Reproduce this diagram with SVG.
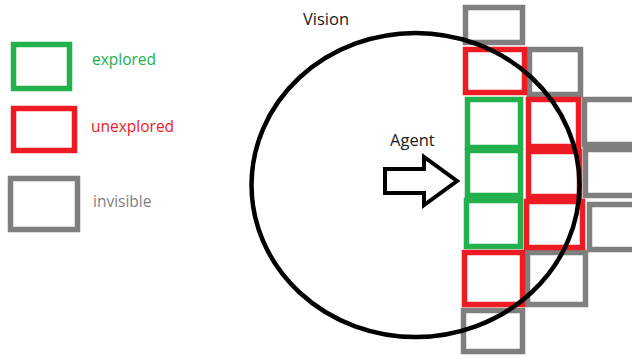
<svg xmlns="http://www.w3.org/2000/svg" width="632" height="356" viewBox="0 0 632 356">
  <style>
    .cell { fill: none; stroke-width: 5.5; }
    .explored { stroke: #22b14c; }
    .unexplored { stroke: #ed1c24; }
    .invisible { stroke: #7f7f7f; }
    .label { font-family: "Open Sans", "Liberation Sans", sans-serif; font-size: 15.5px; }
    .title { font-size: 16.5px; }
    .dark { fill: #1a1a1a; }
  </style>
  <rect width="632" height="356" fill="#ffffff"/>

  <!-- Legend -->
  <g id="legend">
    <g id="legend-explored">
      <rect class="cell explored" x="13.5" y="44.5" width="56" height="44"/>
      <text class="label" x="92" y="65" fill="#22b14c">explored</text>
    </g>
    <g id="legend-unexplored">
      <rect class="cell unexplored" x="13.5" y="108.5" width="61" height="42"/>
      <text class="label" x="91" y="132" fill="#ed1c24">unexplored</text>
    </g>
    <g id="legend-invisible">
      <rect class="cell invisible" x="10.5" y="178.5" width="67" height="51"/>
      <text class="label" x="93" y="207" fill="#7f7f7f">invisible</text>
    </g>
  </g>

  <!-- Grid cells -->
  <g id="cells">
    <!-- invisible -->
    <rect id="c1r1" class="cell invisible" x="465.5" y="7.5" width="57" height="35"/>
    <rect id="c1r7" class="cell invisible" x="463.5" y="310.5" width="59" height="41"/>
    <rect id="c2r2" class="cell invisible" x="529.5" y="49.5" width="51" height="45"/>
    <rect id="c2r6" class="cell invisible" x="527.5" y="252.5" width="58" height="52"/>
    <rect id="c3r3" class="cell invisible" x="584.5" y="99.5" width="60" height="45"/>
    <rect id="c3r4" class="cell invisible" x="585.5" y="149.5" width="60" height="46"/>
    <rect id="c3r5" class="cell invisible" x="589.5" y="204.5" width="60" height="45"/>
    <!-- unexplored -->
    <rect id="c1r2" class="cell unexplored" x="465.5" y="49.5" width="59" height="43"/>
    <rect id="c1r6" class="cell unexplored" x="464.5" y="252.5" width="58" height="52"/>
    <rect id="c2r3" class="cell unexplored" x="528.5" y="99.5" width="50" height="47"/>
    <rect id="c2r4" class="cell unexplored" x="528.5" y="151.5" width="51" height="45"/>
    <rect id="c2r5" class="cell unexplored" x="526.5" y="201.5" width="56" height="46"/>
    <!-- explored -->
    <rect id="c1r3" class="cell explored" x="467.5" y="99.5" width="53" height="48"/>
    <rect id="c1r4" class="cell explored" x="467.5" y="150.5" width="53" height="45"/>
    <rect id="c1r5" class="cell explored" x="466.5" y="200.5" width="54" height="46"/>
  </g>

  <!-- Vision range -->
  <g id="vision">
    <ellipse cx="415.5" cy="185" rx="164" ry="152" fill="none" stroke="#000" stroke-width="4.5"/>
    <text class="label title dark" x="303" y="25">Vision</text>
  </g>

  <!-- Agent heading -->
  <g id="agent">
    <text class="label title dark" x="390" y="146">Agent</text>
    <polygon points="385,169 424,169 424,157 457,181 424,205 424,193 385,193" fill="#ffffff" stroke="#000" stroke-width="4" stroke-linejoin="miter"/>
  </g>
</svg>
